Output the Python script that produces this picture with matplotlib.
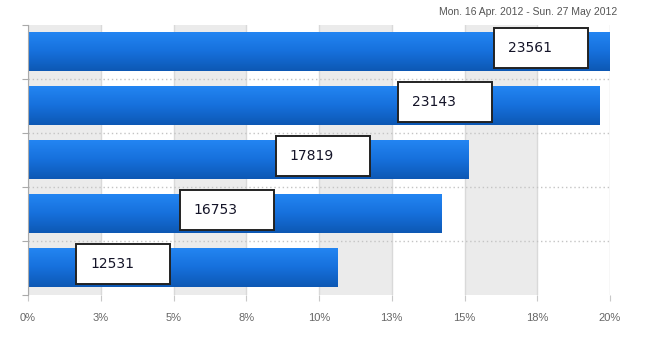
import matplotlib
matplotlib.use('Agg')
import matplotlib.pyplot as plt
import numpy as np
from matplotlib.colors import LinearSegmentedColormap
from matplotlib.patches import Rectangle

# Données
valeurs = [23561, 23143, 17819, 16753, 12531]
pourcentages = [20.0, 19.65, 15.13, 14.22, 10.64]
ticks = [0, 2.5, 5, 7.5, 10, 12.5, 15, 17.5, 20]
tick_labels = ['0%', '3%', '5%', '8%', '10%', '13%', '15%', '18%', '20%']
titre = 'Mon. 16 Apr. 2012 - Sun. 27 May 2012'
# position gauche des étiquettes (en %)
label_x = [16.0, 12.7, 8.52, 5.22, 1.65]

font_etroite = ['Liberation Sans Narrow', 'Liberation Sans', 'DejaVu Sans']

fig = plt.figure(figsize=(6.71, 3.53), dpi=100)
ax = fig.add_axes([28 / 671, 1 - 295 / 353, (610 - 28) / 671, 270 / 353])

# Bandes grises alternées
for i in range(0, len(ticks) - 1, 2):
    ax.axvspan(ticks[i], ticks[i + 1], color='#ebebeb', lw=0, zorder=0)
for t in ticks:
    ax.axvline(t, color='#d9d9d9', lw=1, zorder=0.5)

# Séparateurs pointillés entre catégories
for k in range(1, len(valeurs)):
    ax.axhline(k - 0.5, color='#c4c4c4', lw=1, ls=(0, (1, 2)), zorder=0.6)

y = np.arange(len(valeurs))
barres = ax.barh(y, pourcentages, height=0.72, color='#156fdc', zorder=1)

# Dégradé bleu sur les barres
cmap = LinearSegmentedColormap.from_list('bleu', ['#2385f2', '#1670dc', '#0d58b4'])
grad = np.linspace(0, 1, 100).reshape(-1, 1)
for b in barres:
    x0, y0, w, h = b.get_x(), b.get_y(), b.get_width(), b.get_height()
    ax.imshow(grad, extent=[x0, x0 + w, y0 + h, y0], aspect='auto', cmap=cmap,
              zorder=2, interpolation='bilinear')

# Étiquettes encadrées
larg_box = 3.23
haut_box = 0.74
for i, v in enumerate(valeurs):
    yc = y[i] - 0.07
    ax.add_patch(Rectangle((label_x[i], yc - haut_box / 2), larg_box, haut_box,
                           facecolor='white', edgecolor='#222222', lw=1.4, zorder=3))
    ax.text(label_x[i] + 0.48, yc, str(v), fontsize=10, color='#141428',
            va='center', ha='left', zorder=4)

ax.set_xlim(0, 20)
ax.set_ylim(len(valeurs) - 0.5, -0.5)

ax.set_xticks(ticks)
ax.set_xticklabels(tick_labels, family=font_etroite, fontsize=8, color='#666666')
ax.set_yticks(np.arange(len(valeurs) + 1) - 0.5)
ax.set_yticklabels([])
ax.tick_params(axis='x', length=4, color='#c8c8c8', pad=9)
ax.tick_params(axis='y', length=4, color='#aaaaaa')

for s in ['top', 'right', 'bottom']:
    ax.spines[s].set_visible(False)
ax.spines['left'].set_color('#aaaaaa')

fig.text(617 / 671, 1 - 12 / 353, titre, family=font_etroite, fontsize=7.5,
         color='#555555', ha='right', va='center')

fig.savefig('out.png', dpi=100)
